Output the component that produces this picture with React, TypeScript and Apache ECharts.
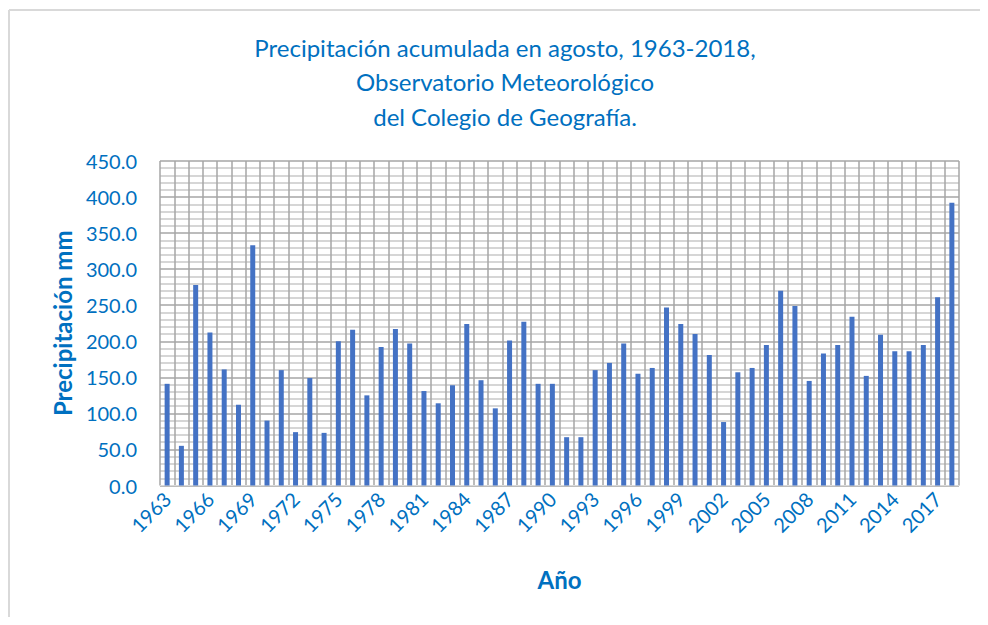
import React, { useEffect, useRef } from "react";
import * as echarts from "echarts";

const years: string[] = [];
for (let y = 1963; y <= 2018; y++) years.push(String(y));

const precipitation = [
  141, 55, 278, 212, 161, 112, 333, 90, 160, 74,
  149, 73, 200, 216, 125, 192, 217, 197, 131, 114,
  139, 224, 146, 107, 201, 227, 141, 141, 67, 67,
  160, 170, 197, 155, 163, 247, 224, 210, 181, 88,
  157, 163, 195, 270, 249, 145, 183, 195, 234, 152,
  209, 186, 186, 195, 261, 392,
];

const titleLines = [
  "Precipitación acumulada en agosto, 1963-2018,",
  "Observatorio Meteorológico",
  "del Colegio de Geografía.",
];

const yAxisTitle = "Precipitación mm";
const xAxisTitle = "Año";

const BLUE_TEXT = "#0070C0";
const FONT = "Lato, 'Open Sans', sans-serif";

export default function App() {
  const ref = useRef<HTMLDivElement>(null);
  useEffect(() => {
    if (!ref.current) return;
    const chart = echarts.init(ref.current, undefined, { renderer: "svg" });
    chart.setOption({
      animation: false,
      backgroundColor: "#ffffff",
      title: {
        text: titleLines.join("\n"),
        left: 505,
        top: 30,
        textAlign: "center",
        padding: 0,
        textStyle: {
          color: BLUE_TEXT,
          fontFamily: FONT,
          fontSize: 24,
          fontWeight: "normal",
          lineHeight: 34.5,
        },
      },
      graphic: [
        {
          type: "line",
          shape: { x1: 9, y1: 10, x2: 988, y2: 10 },
          style: { stroke: "#D9D9D9", lineWidth: 2 },
          silent: true,
          z: -10,
        },
        {
          type: "line",
          shape: { x1: 9, y1: 10, x2: 9, y2: 625 },
          style: { stroke: "#D9D9D9", lineWidth: 2 },
          silent: true,
          z: -10,
        },
      ],
      grid: { left: 160, right: 29, top: 161, bottom: 139.5 },
      xAxis: {
        type: "category",
        data: years,
        name: xAxisTitle,
        nameLocation: "middle",
        nameGap: 82,
        nameTextStyle: {
          color: BLUE_TEXT,
          fontFamily: FONT,
          fontSize: 24,
          fontWeight: "bold",
        },
        axisLine: { show: true, lineStyle: { color: "#D9D9D9", width: 1 } },
        axisTick: { show: false },
        axisLabel: {
          interval: 2,
          rotate: 45,
          margin: 10,
          color: BLUE_TEXT,
          fontFamily: FONT,
          fontSize: 20,
        },
        splitLine: {
          show: true,
          interval: 0,
          lineStyle: { color: "#A6A6A6", width: 1.5 },
        },
      },
      yAxis: {
        type: "value",
        min: 0,
        max: 450,
        interval: 50,
        name: yAxisTitle,
        nameLocation: "middle",
        nameRotate: 90,
        nameGap: 86,
        nameTextStyle: {
          color: BLUE_TEXT,
          fontFamily: FONT,
          fontSize: 24,
          fontWeight: "bold",
        },
        axisLine: { show: false },
        axisTick: { show: false },
        axisLabel: {
          margin: 23,
          color: BLUE_TEXT,
          fontFamily: FONT,
          fontSize: 20,
          formatter: (v: number) => v.toFixed(1),
        },
        splitLine: { show: true, lineStyle: { color: "#A6A6A6", width: 1.5 } },
        minorTick: { show: false, splitNumber: 5 },
        minorSplitLine: { show: true, lineStyle: { color: "#C8C8C8", width: 1.5 } },
      },
      series: [
        {
          type: "bar",
          data: precipitation,
          barWidth: 5,
          itemStyle: { color: "#4472C4" },
        },
      ],
    });
    return () => chart.dispose();
  }, []);
  return <div ref={ref} style={{ width: 988, height: 625, margin: -8 }} />;
}
